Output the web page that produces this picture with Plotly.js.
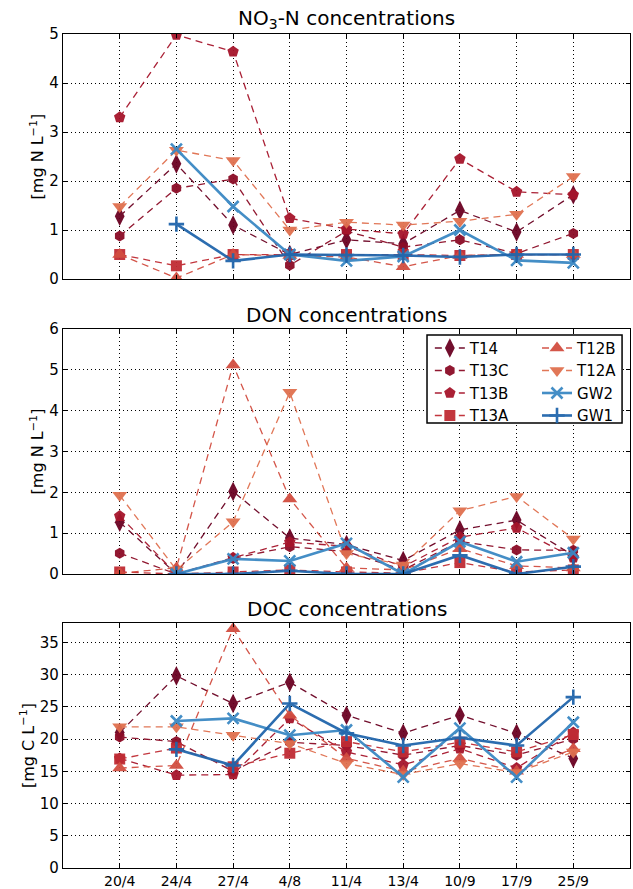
<!DOCTYPE html>
<html>
<head>
<meta charset="utf-8">
<script src="https://cdn.plot.ly/plotly-3.0.1.min.js"></script>
<style>html,body{margin:0;padding:0;background:#fff;}#chart{width:633px;height:889px;}</style>
</head>
<body>
<div id="chart"></div>
<script>
// ---- data ----
const dates = ["20/4","24/4","27/4","4/8","11/4","13/4","10/9","17/9","25/9"];
const seriesNames = ["T14","T13C","T13B","T13A","T12B","T12A","GW2","GW1"];

const no3_T14  = [1.28, 2.35, 1.10, 0.50, 0.80, 0.72, 1.40, 0.96, 1.72];
const no3_T13C = [0.88, 1.85, 2.04, 0.28, 0.98, 0.65, 0.80, 0.52, 0.93];
const no3_T13B = [3.30, 4.98, 4.64, 1.24, 1.02, 0.92, 2.45, 1.78, 1.72];
const no3_T13A = [0.50, 0.27, 0.50, 0.50, 0.50, 0.50, 0.48, 0.50, 0.50];
const no3_T12B = [0.50, 0.02, 0.50, 0.48, 0.45, 0.25, 0.48, 0.50, 0.50];
const no3_T12A = [1.48, 2.63, 2.42, 1.00, 1.16, 1.10, 1.18, 1.32, 2.09];
const no3_GW2  = [null, 2.65, 1.48, 0.50, 0.37, 0.46, 1.00, 0.38, 0.33];
const no3_GW1  = [null, 1.12, 0.37, 0.50, 0.49, 0.48, 0.45, 0.50, 0.50];

const don_T14  = [1.27, 0.00, 2.02, 0.88, 0.72, 0.33, 1.08, 1.32, 0.45];
const don_T13C = [0.51, 0.00, 0.38, 0.67, 0.55, 0.10, 0.80, 0.59, 0.58];
const don_T13B = [1.42, 0.00, 0.40, 0.78, 0.68, 0.18, 0.90, 1.13, 0.40];
const don_T13A = [0.05, 0.00, 0.05, 0.10, 0.05, 0.02, 0.28, 0.05, 0.10];
const don_T12B = [0.02, 0.15, 5.12, 1.84, 0.15, 0.10, 0.62, 0.20, 0.15];
const don_T12A = [1.93, 0.10, 1.28, 4.45, 0.50, 0.22, 1.55, 1.90, 0.86];
const don_GW2  = [null, 0.00, 0.37, 0.32, 0.75, 0.00, 0.79, 0.30, 0.52];
const don_GW1  = [null, 0.00, 0.00, 0.08, 0.00, 0.00, 0.46, 0.00, 0.18];

const doc_T14  = [21.0, 29.8, 25.5, 28.8, 23.7, 20.9, 23.7, 20.9, 17.0];
const doc_T13C = [20.3, 19.6, 15.0, 19.5, 19.0, 17.5, 19.0, 17.5, 20.0];
const doc_T13B = [17.0, 14.4, 14.5, 23.2, 18.0, 16.0, 18.5, 15.5, 21.0];
const doc_T13A = [16.9, 18.6, 15.7, 17.8, 19.6, 18.0, 19.5, 18.0, 20.7];
const doc_T12B = [15.5, 15.9, 37.1, 23.7, 17.0, 15.0, 17.0, 15.0, 18.5];
const doc_T12A = [21.9, 21.9, 20.6, 19.3, 16.2, 14.5, 16.2, 14.8, 18.0];
const doc_GW2  = [null, 22.8, 23.2, 20.6, 21.4, 14.1, 21.7, 14.1, 22.6];
const doc_GW1  = [null, 18.4, 15.9, 25.5, 20.9, 19.0, 20.2, 19.0, 26.5];

// ---- styles ----
const colors  = {T14:"#6b0222", T13C:"#8c0c26", T13B:"#a6152b", T13A:"#c02c34", T12B:"#d24d40", T12A:"#e0704f", GW2:"#3a88c4", GW1:"#2166ac"};
const symbols = {T14:"diamond-tall", T13C:"hexagon", T13B:"pentagon", T13A:"square", T12B:"triangle-up", T12A:"triangle-down", GW2:"x-thin", GW1:"cross-thin"};
const msize   = {T14:14, T13C:11, T13B:12, T13A:11, T12B:13, T12A:13, GW2:11, GW1:11};
const legendOf = {T14:"legend", T13C:"legend", T13B:"legend", T13A:"legend", T12B:"legend2", T12A:"legend2", GW2:"legend2", GW1:"legend2"};

const panels = [
  {xa:"x3", ya:"y3", data:{T14:no3_T14,T13C:no3_T13C,T13B:no3_T13B,T13A:no3_T13A,T12B:no3_T12B,T12A:no3_T12A,GW2:no3_GW2,GW1:no3_GW1}, legend:false},
  {xa:"x2", ya:"y2", data:{T14:don_T14,T13C:don_T13C,T13B:don_T13B,T13A:don_T13A,T12B:don_T12B,T12A:don_T12A,GW2:don_GW2,GW1:don_GW1}, legend:true},
  {xa:"x",  ya:"y",  data:{T14:doc_T14,T13C:doc_T13C,T13B:doc_T13B,T13A:doc_T13A,T12B:doc_T12B,T12A:doc_T12A,GW2:doc_GW2,GW1:doc_GW1}, legend:false}
];

const traces = [];
panels.forEach(p => {
  seriesNames.forEach(n => {
    const gw = n.startsWith("GW");
    const mk = {symbol: symbols[n], size: msize[n], color: colors[n], line: {width: 0, color: colors[n]}};
    if (gw) mk.line = {width: 2.6, color: colors[n]};
    traces.push({
      type: "scatter", mode: "lines+markers", name: n,
      x: dates, y: p.data[n], xaxis: p.xa, yaxis: p.ya,
      connectgaps: false,
      line: {color: colors[n], width: gw ? 2.6 : 1.3, dash: gw ? "solid" : "7px,5px"},
      marker: mk,
      opacity: 0.95,
      showlegend: p.legend,
      legend: legendOf[n],
      hoverinfo: "skip"
    });
  });
});

const font = {family: "DejaVu Sans, sans-serif", color: "#000"};
function xax(showLabels, anchor){
  return {anchor: anchor, type: "category", categoryorder: "array", categoryarray: dates,
    range: [-1, 9], showgrid: true, gridcolor: "#000", griddash: "1px,3px", gridwidth: 1,
    showline: true, linecolor: "#000", linewidth: 1.2, mirror: "ticks",
    ticks: "inside", ticklen: 4, tickcolor: "#000",
    showticklabels: showLabels, tickfont: {family: font.family, size: 14, color: "#000"}, zeroline: false};
}
function yax(domain, range, dtick, title, anchor){
  return {domain: domain, anchor: anchor, range: range, dtick: dtick, tick0: 0,
    showgrid: true, gridcolor: "#000", griddash: "1px,3px", gridwidth: 1,
    showline: true, linecolor: "#000", linewidth: 1.2, mirror: "ticks",
    ticks: "inside", ticklen: 4, tickcolor: "#000", zeroline: false,
    tickfont: {family: font.family, size: 15, color: "#000"},
    title: {text: title, standoff: 1, font: {family: font.family, size: 16, color: "#000"}}};
}

const titleFont = {family: font.family, size: 20, color: "#000"};
const layout = {
  width: 633, height: 889,
  margin: {l: 63, r: 3, t: 34, b: 21},
  paper_bgcolor: "#fff", plot_bgcolor: "#fff",
  font: font,
  xaxis:  xax(true,  "y"),
  xaxis2: xax(false, "y2"),
  xaxis3: xax(false, "y3"),
  yaxis:  yax([0, 0.2938], [0, 38], 5, "[mg C L<sup>−1</sup>]", "x"),
  yaxis2: yax([0.3525, 0.6463], [0, 6], 1, "[mg N L<sup>−1</sup>]", "x2"),
  yaxis3: yax([0.7062, 1.0], [0, 5], 1, "[mg N L<sup>−1</sup>]", "x3"),
  annotations: [
    {text: "NO<sub>3</sub>-N concentrations", xref: "paper", yref: "paper", x: 0.5, y: 1.0, yanchor: "bottom", yshift: 0, showarrow: false, font: titleFont},
    {text: "DON concentrations", xref: "paper", yref: "paper", x: 0.5, y: 0.6463, yanchor: "bottom", yshift: 0, showarrow: false, font: titleFont},
    {text: "DOC concentrations", xref: "paper", yref: "paper", x: 0.5, y: 0.2938, yanchor: "bottom", yshift: 0, showarrow: false, font: titleFont}
  ],
  shapes: [
    {type: "rect", xref: "paper", yref: "paper", x0: 0.642, x1: 0.986, y0: 0.5336, y1: 0.639,
     fillcolor: "#fff", line: {color: "#000", width: 1.5}, layer: "above"}
  ],
  legend:  {x: 0.647, y: 0.643, xanchor: "left", yanchor: "top", bgcolor: "rgba(0,0,0,0)", borderwidth: 0,
            itemwidth: 30, tracegroupgap: 0, font: {family: font.family, size: 15, color: "#000"}},
  legend2: {x: 0.836, y: 0.643, xanchor: "left", yanchor: "top", bgcolor: "rgba(0,0,0,0)", borderwidth: 0,
            itemwidth: 30, tracegroupgap: 0, font: {family: font.family, size: 15, color: "#000"}}
};

Plotly.newPlot("chart", traces, layout, {displayModeBar: false, staticPlot: true});
</script>
</body>
</html>
